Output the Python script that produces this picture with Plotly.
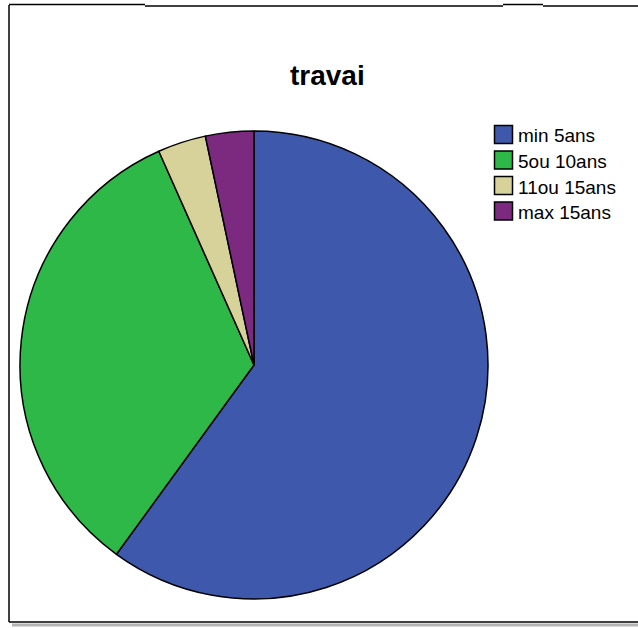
import plotly.graph_objects as go

labels = ["min 5ans", "5ou 10ans", "11ou 15ans", "max 15ans"]
values = [18, 10, 1, 1]
colors = ["#3e58ac", "#2eb848", "#d6d29a", "#7b2a80"]
title = "travai"

W, H = 638, 628

def px(x):
    return x / W

def py(y):
    return 1 - y / H

fig = go.Figure(go.Pie(
    labels=labels, values=values, sort=False, direction="clockwise", rotation=0,
    marker=dict(colors=colors, line=dict(color="#000000", width=1.5)),
    textinfo="none", hoverinfo="label+percent", showlegend=False,
    domain=dict(x=[px(20), px(488)], y=[py(599), py(131)]),
))

black = dict(color="#000000", width=1.5)
shapes = [
    dict(type="line", x0=px(12), x1=px(640), y0=py(625), y1=py(625), line=dict(color="#b4b4b4", width=3)),
    dict(type="line", x0=px(9), x1=px(9), y0=py(5), y1=py(622), line=black),
    dict(type="line", x0=px(9), x1=px(640), y0=py(622), y1=py(622), line=black),
    dict(type="line", x0=px(9), x1=px(145), y0=py(4.5), y1=py(4.5), line=black),
    dict(type="line", x0=px(145), x1=px(503), y0=py(6), y1=py(6), line=black),
    dict(type="line", x0=px(503), x1=px(543), y0=py(4.5), y1=py(4.5), line=black),
    dict(type="line", x0=px(543), x1=px(640), y0=py(6), y1=py(6), line=black),
]
annotations = [dict(text="<b>" + title + "</b>", x=px(327.5), y=py(75), xref="paper", yref="paper",
                    showarrow=False, font=dict(size=28, color="#000000"),
                    xanchor="center", yanchor="middle")]

# legend (boxes + labels), laid out in rows
LEG_X0, LEG_BOX, LEG_Y0, LEG_STEP = 494.5, 18, 134.5, 25.5
for i, (lab, col) in enumerate(zip(labels, colors)):
    cy = LEG_Y0 + i * LEG_STEP
    shapes.append(dict(type="rect", xref="paper", yref="paper",
                       x0=px(LEG_X0), x1=px(LEG_X0 + LEG_BOX),
                       y0=py(cy + LEG_BOX / 2), y1=py(cy - LEG_BOX / 2),
                       fillcolor=col, line=dict(color="#000000", width=1.5)))
    annotations.append(dict(text=lab, x=px(LEG_X0 + LEG_BOX + 3), y=py(cy + 1.5),
                            xref="paper", yref="paper", showarrow=False,
                            xanchor="left", yanchor="middle",
                            font=dict(size=19, color="#000000")))

fig.update_layout(
    width=W, height=H,
    margin=dict(l=0, r=0, t=0, b=0),
    paper_bgcolor="white", plot_bgcolor="white",
    font=dict(family="Liberation Sans, Arial, sans-serif", color="#000000"),
    showlegend=False,
    annotations=annotations,
    shapes=shapes,
)

fig.write_html("out.html", config={"displayModeBar": False},
               post_script="document.body.style.margin='0';document.body.style.overflow='hidden';")
